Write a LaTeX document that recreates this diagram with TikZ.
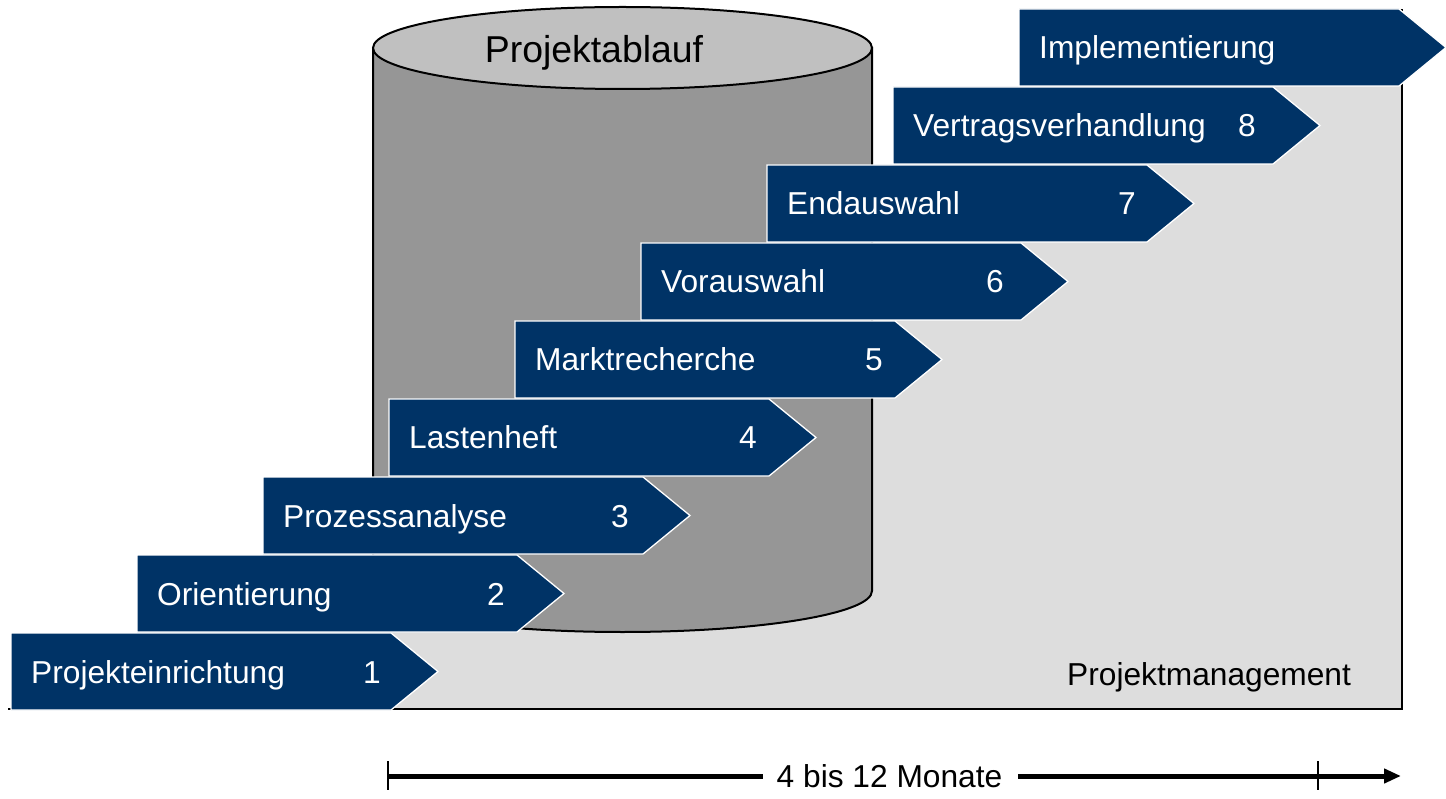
\documentclass[tikz,border=0pt]{standalone}
\usepackage{fontspec}
\setmainfont{Liberation Sans}
\usetikzlibrary{arrows.meta}
\definecolor{navy}{RGB}{0,51,102}
\definecolor{pmgray}{RGB}{221,221,221}
\definecolor{cylbody}{RGB}{150,150,150}
\definecolor{cyltop}{RGB}{192,192,192}
\begin{document}
\begin{tikzpicture}[x=1pt,y=1pt,
  phase/.style={fill=navy,draw=white,line width=1.3pt,line join=miter},
  lbl/.style={text=white,font=\fontsize{31.7}{38}\selectfont,inner sep=0pt,anchor=base west},
  num/.style={text=white,font=\fontsize{31.7}{38}\selectfont,inner sep=0pt,anchor=base},
  plain/.style={text=black,font=\fontsize{31.7}{38}\selectfont,inner sep=0pt},
  outline/.style={draw=black,line width=2pt}]
\useasboundingbox (0,0) rectangle (1446,-799);
% project management background
\fill[pmgray] (11,-709) -- (11,-633) -- (137,-633) -- (137,-555) -- (263,-555) -- (263,-477)
  -- (389,-477) -- (389,-399) -- (515,-399) -- (515,-321) -- (641,-321) -- (641,-243)
  -- (767,-243) -- (767,-165) -- (893,-165) -- (893,-87) -- (1019,-87) -- (1019,-9)
  -- (1402,-9) -- (1402,-709) -- cycle;
\draw[outline] (8,-709) -- (1402,-709) -- (1402,-9);
% cylinder
\path[fill=cylbody,outline] (373,-48) -- (373,-591)
  arc[start angle=180,end angle=360,x radius=249.5,y radius=41] -- (872,-48) -- cycle;
\draw[fill=cyltop,outline] (622.5,-48) ellipse[x radius=249.5,y radius=41];
\node[plain,anchor=base,font=\fontsize{37.4}{44}\selectfont] (title) at (594,-63) {Projektablauf};
% phases
\foreach \k/\txt/\n/\nx in {1/Projekteinrichtung/1/372,2/Orientierung/2/496,3/Prozessanalyse/3/620,4/Lastenheft/4/748,
  5/Marktrecherche/5/874,6/Vorauswahl/6/995,7/Endauswahl/7/1127,8/Vertragsverhandlung/8/1247}{
  \pgfmathsetmacro\L{11+126*(\k-1)}
  \pgfmathsetmacro\T{-633+78*(\k-1)}
  \draw[phase] (\L,\T) -- ++(380,0) -- ++(47,-38.5) -- ++(-47,-38.5) -- ++(-380,0) -- cycle;
  \node[lbl] (lab\k) at (\L+20,\T-50) {\txt};
  \node[num] (num\k) at (\nx,\T-50) {\n};
}
\draw[phase] (1019,-9) -- ++(380,0) -- ++(47,-38.5) -- ++(-47,-38.5) -- ++(-380,0) -- cycle;
\node[lbl] (lab9) at (1039,-59) {Implementierung};
\node[plain,anchor=base west] (pm) at (1067,-685) {Projektmanagement};
% duration
\coordinate (t0) at (388,-776);
\coordinate (t1) at (1401,-776);
\coordinate (tk) at (1318,-776);
\node[plain,anchor=base] (dur) at (889.5,-787) {4 bis 12 Monate};
\draw[line width=5pt] (t0) -- ([xshift=-14pt]dur.west |- t0);
\draw[line width=5pt,-{Triangle[length=17pt,width=14pt]}] ([xshift=16pt]dur.east |- t0) -- (t1);
\draw[line width=1.5pt] ([yshift=15pt]t0) -- ([yshift=-14pt]t0);
\draw[line width=1.5pt] ([yshift=15pt]tk) -- ([yshift=-14pt]tk);
\end{tikzpicture}
\end{document}
